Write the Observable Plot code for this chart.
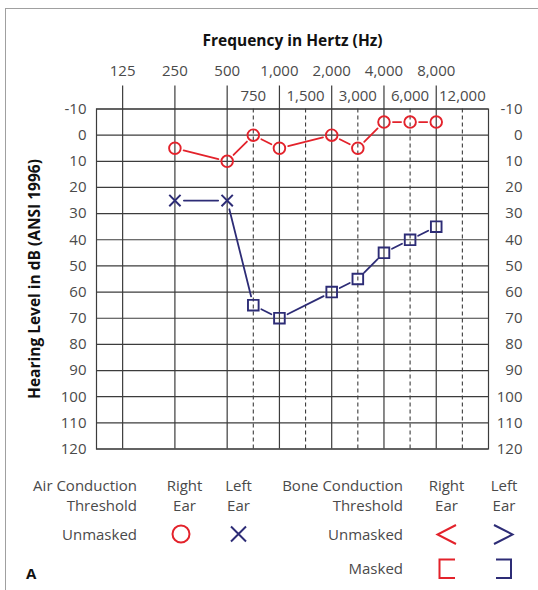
<!DOCTYPE html>
<html><head><meta charset="utf-8">
<script src="https://cdn.jsdelivr.net/npm/d3@7"></script>
<script src="https://cdn.jsdelivr.net/npm/@observablehq/plot@0.6"></script>
<style>
body{margin:0;background:#fff;}
#wrap{position:relative;width:538px;height:590px;overflow:hidden;background:#fff;font-family:'Open Sans',sans-serif;}
#frame{position:absolute;left:5px;top:8px;width:700px;height:800px;border:1.5px solid #a0a0a0;box-sizing:border-box;}
#chart{position:absolute;left:0;top:0;}
#legend{position:absolute;left:0;top:460px;}
</style></head><body>
<div id="wrap"><div id="frame"></div><div id="chart"></div><svg id="legend" width="538" height="130"></svg></div>
<script>
// ---- data ----
const majorFreqs = [125, 250, 500, 1000, 2000, 4000, 8000];
const midFreqs = [750, 1500, 3000, 6000, 12000];
const dbTicks = [-10, 0, 10, 20, 30, 40, 50, 60, 70, 80, 90, 100, 110, 120];

const rightAirFreq = [250, 500, 750, 1000, 2000, 3000, 4000, 6000, 8000];
const rightAirDb   = [5, 10, 0, 5, 0, 5, -5, -5, -5];
const leftAirFreq  = [250, 500];
const leftAirDb    = [25, 25];
const leftBoneMaskedFreq = [750, 1000, 2000, 3000, 4000, 6000, 8000];
const leftBoneMaskedDb   = [65, 70, 60, 55, 45, 40, 35];

const xTitle = "Frequency in Hertz (Hz)";
const yTitle = "Hearing Level in dB (ANSI 1996)";

// ---- layout helpers ----
// audiogram position: octaves above 125 Hz, mid-octave frequencies placed halfway
const pos = f => { const o = Math.log2(f / 125); return Math.abs(o - Math.round(o)) < 1e-9 ? Math.round(o) : Math.floor(o) + 0.5; };
const pts = (fs, ds) => fs.map((f, i) => ({x: pos(f), y: ds[i]}));
const segs = arr => d3.pairs(arr).map(([a, b]) => ({x1: a.x, y1: a.y, x2: b.x, y2: b.y}));

const rightAir = pts(rightAirFreq, rightAirDb);
const leftAir = pts(leftAirFreq, leftAirDb);
const leftBone = pts(leftBoneMaskedFreq, leftBoneMaskedDb);
const leftEar = [...leftAir, ...leftBone];

const RED = "#e3222b", NAVY = "#2d2c76", GRID = "#3c3c3c", LABEL = "#4a4a4a";
const fmt = d3.format(",");
const FS = 15;

const chart = Plot.plot({
  width: 538, height: 460,
  marginLeft: 96, marginRight: 50, marginTop: 108.5, marginBottom: 11.5,
  style: {fontFamily: "'Open Sans', sans-serif", fontSize: FS + "px", background: "transparent", overflow: "visible"},
  x: {domain: [-0.5, 7], axis: null},
  y: {domain: [-10, 120], reverse: true, axis: null},
  marks: [
    Plot.ruleY(dbTicks, {stroke: GRID, strokeWidth: 1.2}),
    Plot.ruleX(majorFreqs, {x: pos, stroke: GRID, strokeWidth: 1.2, insetTop: -23}),
    Plot.ruleX(midFreqs, {x: pos, stroke: GRID, strokeWidth: 1.1, strokeDasharray: "4,3"}),
    Plot.frame({stroke: GRID, strokeWidth: 1.2}),
    Plot.axisY(dbTicks, {anchor: "left", tickSize: 0, tickPadding: 10, tickFormat: d => String(d), fill: LABEL, fontSize: FS, label: null}),
    Plot.axisY(dbTicks, {anchor: "right", tickSize: 0, tickPadding: 34, textAnchor: "end", tickFormat: d => String(d), fill: LABEL, fontSize: FS, label: null}),
    Plot.text(majorFreqs, {x: pos, text: d => fmt(d), frameAnchor: "top", lineAnchor: "middle", dy: -38, fill: LABEL, fontSize: FS}),
    Plot.text(midFreqs, {x: pos, text: d => fmt(d), frameAnchor: "top", lineAnchor: "middle", dy: -13, fill: LABEL, fontSize: FS}),
    Plot.text([xTitle], {text: d => d, frameAnchor: "top", lineAnchor: "middle", dy: -68, fontWeight: "bold", fontSize: 15.5, fill: "#111"}),
    Plot.text([yTitle], {text: d => d, frameAnchor: "left", textAnchor: "middle", lineAnchor: "middle", dx: -61, rotate: -90, fontWeight: "bold", fontSize: 15.5, fill: "#111"}),
    Plot.arrow(segs(rightAir), {x1: "x1", y1: "y1", x2: "x2", y2: "y2", stroke: RED, strokeWidth: 1.8, headLength: 0, insetStart: 9, insetEnd: 9}),
    Plot.arrow(segs(leftEar), {x1: "x1", y1: "y1", x2: "x2", y2: "y2", stroke: NAVY, strokeWidth: 1.8, headLength: 0, insetStart: 9, insetEnd: 9}),
    Plot.dot(rightAir, {x: "x", y: "y", r: 5.8, stroke: RED, strokeWidth: 1.9, fill: "none"}),
    Plot.dot(leftAir, {x: "x", y: "y", symbol: "times", r: 5.2, stroke: NAVY, strokeWidth: 2, fill: "none"}),
    Plot.dot(leftBone, {x: "x", y: "y", symbol: "square", r: 6, stroke: NAVY, strokeWidth: 1.9, fill: "none"})
  ]
});
document.getElementById("chart").appendChild(chart);

// ---- legend ----
const L = d3.select("#legend").style("font-family", "'Open Sans', sans-serif").style("font-size", FS + "px");
const legendTexts = [
  {t: "Air Conduction", x: 137, y: 25, a: "end"},
  {t: "Threshold", x: 137, y: 45, a: "end"},
  {t: "Unmasked", x: 137, y: 74, a: "end"},
  {t: "Right", x: 184.5, y: 25, a: "middle"},
  {t: "Ear", x: 184.5, y: 45, a: "middle"},
  {t: "Left", x: 238.5, y: 25, a: "middle"},
  {t: "Ear", x: 238.5, y: 45, a: "middle"},
  {t: "Bone Conduction", x: 403, y: 25, a: "end"},
  {t: "Threshold", x: 403, y: 45, a: "end"},
  {t: "Unmasked", x: 403, y: 74, a: "end"},
  {t: "Masked", x: 403, y: 108, a: "end"},
  {t: "Right", x: 446.5, y: 25, a: "middle"},
  {t: "Ear", x: 446.5, y: 45, a: "middle"},
  {t: "Left", x: 504, y: 25, a: "middle"},
  {t: "Ear", x: 504, y: 45, a: "middle"}
];
L.selectAll("text.lt").data(legendTexts).join("text").attr("class", "lt")
  .attr("x", d => d.x).attr("y", d => d.y).attr("text-anchor", d => d.a)
  .attr("dominant-baseline", "central").attr("fill", LABEL).text(d => d.t);
L.append("text").attr("x", 26).attr("y", 113).attr("dominant-baseline", "central")
  .attr("font-weight", "bold").attr("fill", "#111").text("A");
L.append("circle").attr("cx", 181).attr("cy", 74).attr("r", 8.5).attr("fill", "none").attr("stroke", RED).attr("stroke-width", 2);
L.append("path").attr("d", "M231,66.5L246,81.5M246,66.5L231,81.5").attr("fill", "none").attr("stroke", NAVY).attr("stroke-width", 2);
L.append("path").attr("d", "M456,65L437.5,74.5L456,84").attr("fill", "none").attr("stroke", RED).attr("stroke-width", 2);
L.append("path").attr("d", "M494,65L512.5,74.5L494,84").attr("fill", "none").attr("stroke", NAVY).attr("stroke-width", 2);
L.append("path").attr("d", "M455,99.5L439.5,99.5L439.5,118L455,118").attr("fill", "none").attr("stroke", RED).attr("stroke-width", 2);
L.append("path").attr("d", "M496,99.5L511,99.5L511,118L496,118").attr("fill", "none").attr("stroke", NAVY).attr("stroke-width", 2);
</script>
</body></html>
